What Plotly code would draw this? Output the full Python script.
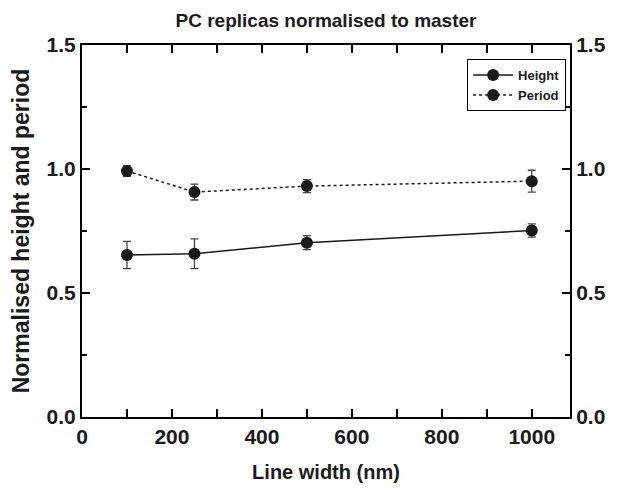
import plotly.graph_objects as go

# Data
line_width = [100, 250, 500, 1000]
height = [0.653, 0.658, 0.703, 0.752]
height_err = [0.055, 0.060, 0.028, 0.027]
period = [0.992, 0.907, 0.931, 0.951]
period_err = [0.022, 0.032, 0.026, 0.044]

x_ticks = [0, 200, 400, 600, 800, 1000]
y_ticks = [0.0, 0.5, 1.0, 1.5]
y_ticklabels = ["0.0", "0.5", "1.0", "1.5"]

FONT = "Liberation Sans, Arial, sans-serif"
INK = "#1a1a1a"

fig = go.Figure()

fig.add_trace(go.Scatter(
    x=line_width, y=height, name="<b>Height</b>",
    mode="lines+markers",
    line=dict(color=INK, width=1.5),
    marker=dict(size=12, color=INK),
    error_y=dict(type="data", array=height_err, color="#444444",
                 thickness=1.3, width=4),
))
fig.add_trace(go.Scatter(
    x=line_width, y=period, name="<b>Period</b>",
    mode="lines+markers",
    line=dict(color=INK, width=1.5, dash="dot"),
    marker=dict(size=12, color=INK),
    error_y=dict(type="data", array=period_err, color="#444444",
                 thickness=1.3, width=4),
))
# invisible trace so the right-hand axis gets drawn
fig.add_trace(go.Scatter(
    x=line_width, y=height, yaxis="y2", mode="markers",
    marker=dict(opacity=0), showlegend=False, hoverinfo="skip",
))

axis_common = dict(
    showline=True, linecolor="black", linewidth=2,
    ticks="inside", ticklen=8, tickwidth=2, tickcolor="black",
    showgrid=False, zeroline=False, automargin=False,
    tickfont=dict(family=FONT, size=21, color=INK),
)
minor_y = dict(dtick=0.25, tick0=0, ticks="inside", ticklen=5,
               tickwidth=2, tickcolor="black")

# the page body adds an 8px offset, so the figure is 8px smaller here
fig.update_layout(
    width=624, height=480,
    margin=dict(l=74, r=62, t=37, b=71),
    plot_bgcolor="white", paper_bgcolor="white",
    font=dict(family=FONT, color=INK),
    title=dict(text="<b>PC replicas normalised to master</b>",
               x=0.5, xref="paper", y=0.988, yanchor="top",
               font=dict(family=FONT, size=19, color=INK)),
    xaxis=dict(
        range=[0, 1085], tickvals=x_ticks,
        ticktext=["<b>%d</b>" % t for t in x_ticks],
        mirror="allticks",
        minor=dict(dtick=100, tick0=0, ticks="inside", ticklen=5,
                   tickwidth=2, tickcolor="black"),
        title=dict(text="<b>Line width (nm)</b>", standoff=18,
                   font=dict(family=FONT, size=20, color=INK)),
        **axis_common,
    ),
    yaxis=dict(
        range=[0, 1.5], tickvals=y_ticks,
        ticktext=["<b>%s</b>" % t for t in y_ticklabels],
        mirror=True,
        minor=minor_y,
        title=dict(text="<b>Normalised height and period</b>", standoff=12,
                   font=dict(family=FONT, size=23, color=INK)),
        **axis_common,
    ),
    yaxis2=dict(
        range=[0, 1.5], tickvals=y_ticks,
        ticktext=["<b>%s</b>" % t for t in y_ticklabels],
        overlaying="y", side="right",
        minor=minor_y,
        **axis_common,
    ),
    legend=dict(
        x=0.992, y=0.962, xanchor="right", yanchor="top",
        bordercolor="black", borderwidth=1, bgcolor="white",
        font=dict(family=FONT, size=13, color=INK),
        itemwidth=40, tracegroupgap=0,
    ),
    showlegend=True,
)

fig.write_html("out.html")
